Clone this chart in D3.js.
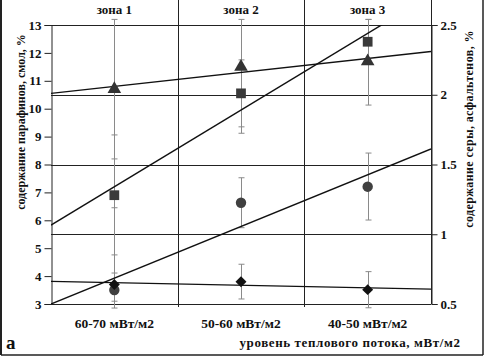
<!DOCTYPE html>
<html>
<head>
<meta charset="utf-8">
<script src="https://cdn.jsdelivr.net/npm/d3@7"></script>
<style>
  html, body { margin: 0; padding: 0; background: #fff; }
  svg text { font-family: "Liberation Serif", "DejaVu Serif", serif; font-weight: bold; fill: #111; }
</style>
</head>
<body>
<div id="chart"></div>
<script>
// categories / zones
const zones = ["зона 1", "зона 2", "зона 3"];
const categories = ["60-70 мВт/м2", "50-60 мВт/м2", "40-50 мВт/м2"];
const leftTicks = [3, 4, 5, 6, 7, 8, 9, 10, 11, 12, 13];
const rightTicks = [0.5, 1, 1.5, 2, 2.5];

// left axis series (парафины, смолы)
const triangleVals = [10.7, 11.5, 11.7];
const triangleLo = [8.2, 9.12, 10.13];
const triangleHi = [13.2, 13.2, 13.2];
const squareVals = [6.9, 10.55, 12.4];
const squareLo = [4.76, 9.35, 11.6];
const squareHi = [9.06, 11.75, 13.2];

// right axis series (сера, асфальтены)
const circleVals = [0.6, 1.226, 1.341];
const circleLo = [0.471, 1.047, 1.102];
const circleHi = [0.722, 1.405, 1.582];
const diamondVals = [0.64, 0.66, 0.603];
const diamondLo = [0.52, 0.536, 0.473];
const diamondHi = [1.19, 0.785, 0.732];

const width = 488, height = 362;
const L = 51, R = 431, T = 25, B = 304;

const svg = d3.select("#chart").append("svg")
  .attr("width", width)
  .attr("height", height);

const x = d3.scaleBand().domain(categories).range([L, R]).padding(0);
const xi = d3.scaleLinear().domain([-0.5, 2.5]).range([L, R]);
const yL = d3.scaleLinear().domain([3, 13]).range([B, T]);
const yR = d3.scaleLinear().domain([0.5, 2.5]).range([B, T]);

svg.append("defs").append("clipPath").attr("id", "plot")
  .append("rect").attr("x", L).attr("y", T).attr("width", R - L).attr("height", B - T);

// frame
svg.append("line").attr("x1", 1).attr("x2", 1).attr("y1", 0).attr("y2", 355).style("stroke", "#222").style("stroke-width", 2);
svg.append("line").attr("x1", 483).attr("x2", 483).attr("y1", 0).attr("y2", 355).style("stroke", "#222").style("stroke-width", 1.5);
svg.append("line").attr("x1", 1).attr("x2", 483).attr("y1", 355).attr("y2", 355).style("stroke", "#222").style("stroke-width", 1.5);

// horizontal grid from right axis ticks
svg.append("g").selectAll("line").data(rightTicks).join("line")
  .attr("x1", L).attr("x2", R)
  .attr("y1", d => Math.round(yR(d)) + 0.5).attr("y2", d => Math.round(yR(d)) + 0.5)
  .style("stroke", "#222").style("stroke-width", 1);

// zone dividers
const edges = [x(categories[1]), x(categories[2])];
svg.append("g").selectAll("line").data(edges).join("line")
  .attr("x1", d => Math.round(d) + 0.5).attr("x2", d => Math.round(d) + 0.5)
  .attr("y1", 0).attr("y2", B + 3)
  .style("stroke", "#222").style("stroke-width", 1);
svg.append("line").attr("x1", R + 0.5).attr("x2", R + 0.5).attr("y1", 0).attr("y2", B)
  .style("stroke", "#222").style("stroke-width", 1);

// left axis
svg.append("g")
  .attr("transform", `translate(${L + 0.5},0)`)
  .call(d3.axisLeft(yL).tickValues(leftTicks).tickSize(7).tickPadding(3))
  .call(g => g.select(".domain").attr("stroke", "#222"))
  .call(g => g.selectAll(".tick line").attr("stroke", "#222"))
  .call(g => g.selectAll("text").style("font-size", "13px").attr("font-family", null));

// right axis
svg.append("g")
  .attr("transform", `translate(${R + 0.5},0)`)
  .call(d3.axisRight(yR).tickValues(rightTicks).tickSize(6).tickPadding(3).tickFormat(d3.format("")))
  .call(g => g.select(".domain").attr("stroke", "#222"))
  .call(g => g.selectAll(".tick line").attr("stroke", "#222"))
  .call(g => g.selectAll("text").style("font-size", "13px").attr("font-family", null));

// zone labels
svg.append("g").selectAll("text").data(zones).join("text")
  .attr("x", (d, i) => x(categories[i]) + x.bandwidth() / 2)
  .attr("y", 14)
  .attr("text-anchor", "middle")
  .style("font-size", "13px")
  .text(d => d);

// category labels
svg.append("g").selectAll("text").data(categories).join("text")
  .attr("x", d => x(d) + x.bandwidth() / 2)
  .attr("y", 328)
  .attr("text-anchor", "middle")
  .style("font-size", "13.5px")
  .text(d => d);

svg.append("text")
  .attr("x", 350).attr("y", 347)
  .attr("text-anchor", "middle")
  .style("font-size", "13px")
  .style("letter-spacing", "0.6px")
  .text("уровень теплового потока, мВт/м2");

svg.append("text")
  .attr("x", 6).attr("y", 349)
  .style("font-size", "19px")
  .text("а");

svg.append("text")
  .attr("transform", "rotate(-90)")
  .attr("x", -122).attr("y", 25)
  .attr("text-anchor", "middle")
  .style("font-size", "12px")
  .text("содержание парафинов, смол, %");

svg.append("text")
  .attr("transform", "rotate(-90)")
  .attr("x", -129).attr("y", 473)
  .attr("text-anchor", "middle")
  .style("font-size", "12px")
  .style("letter-spacing", "0.4px")
  .text("содержание серы, асфальтенов, %");

// series
const series = [
  { vals: triangleVals, lo: triangleLo, hi: triangleHi, y: yL, shape: d3.symbolTriangle, size: 80, rot: 0, color: "#333" },
  { vals: squareVals, lo: squareLo, hi: squareHi, y: yL, shape: d3.symbolSquare, size: 95, rot: 0, color: "#3a3a3a" },
  { vals: circleVals, lo: circleLo, hi: circleHi, y: yR, shape: d3.symbolCircle, size: 85, rot: 0, color: "#404040" },
  { vals: diamondVals, lo: diamondLo, hi: diamondHi, y: yR, shape: d3.symbolSquare, size: 60, rot: 45, color: "#111" }
];

const cx = i => x(categories[i]) + x.bandwidth() / 2;

// error bars
const eb = svg.append("g");
series.forEach(s => {
  s.vals.forEach((v, i) => {
    const px = Math.round(cx(i)) + 0.5;
    eb.append("line").attr("x1", px).attr("x2", px)
      .attr("y1", s.y(s.lo[i])).attr("y2", s.y(s.hi[i]))
      .style("stroke", "#8a8a8a").style("stroke-width", 1);
    [s.lo[i], s.hi[i]].forEach(e => {
      eb.append("line").attr("x1", px - 3).attr("x2", px + 3)
        .attr("y1", s.y(e)).attr("y2", s.y(e))
        .style("stroke", "#8a8a8a").style("stroke-width", 1);
    });
  });
});

// linear trend lines (least squares over the three zones)
const tg = svg.append("g").attr("clip-path", "url(#plot)");
series.forEach(s => {
  const xs = [0, 1, 2];
  const mx = d3.mean(xs), my = d3.mean(s.vals);
  const slope = d3.sum(xs, (k, i) => (k - mx) * (s.vals[i] - my)) / d3.sum(xs, k => (k - mx) ** 2);
  const f = k => my + slope * (k - mx);
  tg.append("line")
    .attr("x1", xi(-0.5)).attr("y1", s.y(f(-0.5)))
    .attr("x2", xi(2.5)).attr("y2", s.y(f(2.5)))
    .style("stroke", "#111").style("stroke-width", 1.4);
});

// markers
series.forEach(s => {
  svg.append("g").selectAll("path").data(s.vals).join("path")
    .attr("transform", (d, i) => `translate(${cx(i)},${s.y(d)}) rotate(${s.rot})`)
    .attr("d", d3.symbol().type(s.shape).size(s.size))
    .style("fill", s.color);
});
</script>
</body>
</html>
